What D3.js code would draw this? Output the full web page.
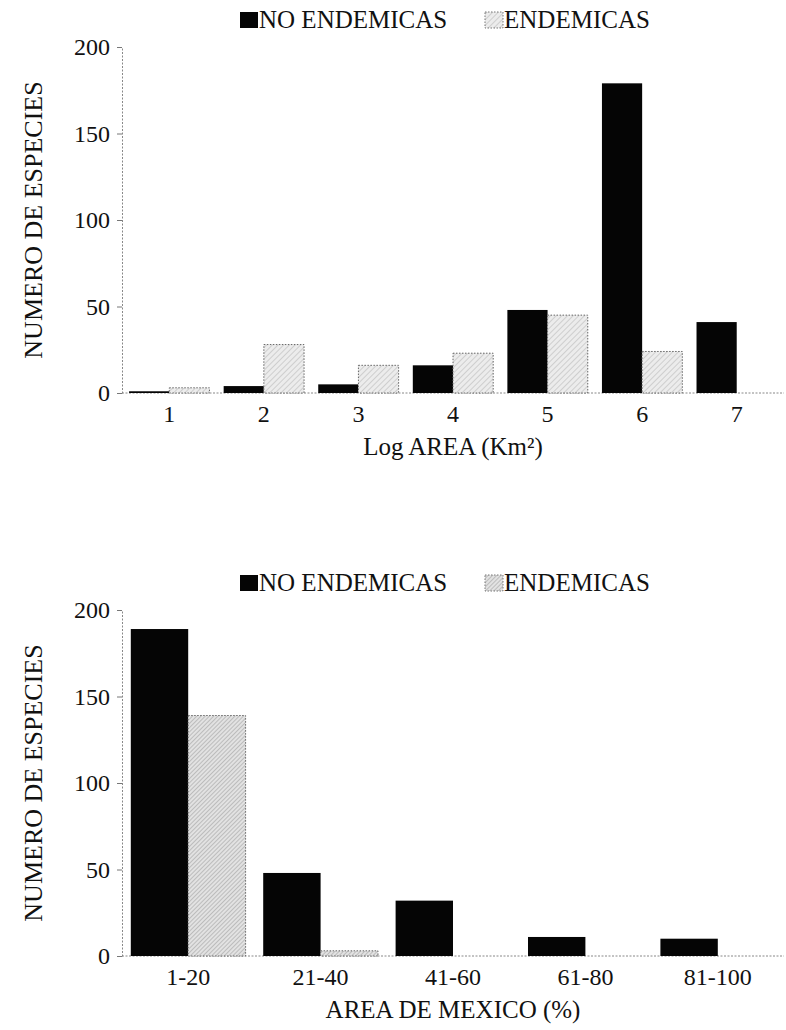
<!DOCTYPE html>
<html>
<head>
  <meta charset="UTF-8"/>
  <title>Numero de especies</title>
  <style>
    body { margin: 0; background: #fff; }
    svg text { font-family: 'Liberation Serif', 'Times New Roman', serif; fill: #111; }
    .tick text { font-size: 24px; }
    .titles { font-size: 25px; }
    .ytitle { font-size: 26px; }
    .legend { font-size: 25px; }
    .axis .domain { stroke: #888; stroke-dasharray: 2,1.5; }
    .axis .tick line { stroke: #777; }
  </style>
  <script src="https://d3js.org/d3.v7.min.js"></script>
</head>
<body>
<svg width="786" height="1030"></svg>
<script>
var logArea = ["1", "2", "3", "4", "5", "6", "7"];
var noEndLog = [1, 4, 5, 16, 48, 179, 41];
var endLog = [3, 28, 16, 23, 45, 24, 0];

var mexArea = ["1-20", "21-40", "41-60", "61-80", "81-100"];
var noEndMex = [189, 48, 32, 11, 10];
var endMex = [139, 3, 0, 0, 0];

var yTicks = [0, 50, 100, 150, 200];
var legendNames = ["NO ENDEMICAS", "ENDEMICAS"];

var svg = d3.select("svg");
var defs = svg.append("defs");

// fill patterns for the endemic bars (scanned grey hatching)
function makePattern(id, bg, line, gap) {
  var p = defs.append("pattern")
    .attr("id", id)
    .attr("patternUnits", "userSpaceOnUse")
    .attr("width", gap).attr("height", gap)
    .attr("patternTransform", "rotate(45)");
  p.append("rect").attr("width", gap).attr("height", gap).attr("fill", bg);
  p.append("line").attr("x1", 0).attr("y1", 0).attr("x2", 0).attr("y2", gap)
    .attr("stroke", line).attr("stroke-width", 0.9);
}
makePattern("hatchTop", "#ececec", "#a8a8a8", 4);
makePattern("hatchBot", "#e2e2e2", "#8e8e8e", 3);

function drawChart(o) {
  var x = d3.scaleBand().domain(o.cats).range([122, 784])
    .paddingInner(o.pad).paddingOuter(o.pad / 2);
  var x1 = d3.scaleBand().domain([0, 1]).range([0, x.bandwidth()]);
  var y = d3.scaleLinear().domain([0, 200]).range([o.y0, o.y200]);

  var g = svg.append("g");

  // baseline, extends a little past the last group
  g.append("line")
    .attr("x1", 122).attr("x2", 784)
    .attr("y1", y(0)).attr("y2", y(0))
    .attr("stroke", "#888").attr("stroke-dasharray", "2,1.5");

  g.append("g")
    .attr("class", "axis")
    .attr("transform", "translate(0," + y(0) + ")")
    .call(d3.axisBottom(x).tickSize(0).tickPadding(12))
    .call(function(s) { s.select(".domain").remove(); });

  g.append("g")
    .attr("class", "axis")
    .attr("transform", "translate(122,0)")
    .call(d3.axisLeft(y).tickValues(yTicks).tickSize(5).tickSizeOuter(0).tickPadding(7));

  var series = [o.noEnd, o.end];
  series.forEach(function(vals, s) {
    g.selectAll(".bar" + s)
      .data(vals)
      .enter().append("rect")
        .attr("class", "bar" + s)
        .attr("x", function(d, i) { return x(o.cats[i]) + x1(s); })
        .attr("y", function(d) { return y(d); })
        .attr("width", x1.bandwidth())
        .attr("height", function(d) { return y(0) - y(d); })
        .attr("fill", s == 0 ? "#050505" : "url(#" + o.pattern + ")")
        .attr("stroke", s == 0 ? "none" : "#666")
        .attr("stroke-width", 1)
        .attr("stroke-dasharray", "1.5,1.5");
  });

  // legend
  var lg = g.append("g").attr("transform", "translate(0," + (o.y200 - 35) + ")");
  lg.append("rect").attr("x", 240).attr("y", 0).attr("width", 18).attr("height", 16).attr("fill", "#050505");
  lg.append("text").attr("class", "legend").attr("x", 259).attr("y", 16).text(legendNames[0]);
  lg.append("rect").attr("x", 485).attr("y", 0).attr("width", 18).attr("height", 16)
    .attr("fill", "url(#" + o.pattern + ")").attr("stroke", "#777").attr("stroke-dasharray", "1.5,1.5");
  lg.append("text").attr("class", "legend").attr("x", 504).attr("y", 16).text(legendNames[1]);

  g.append("text")
    .attr("class", "titles")
    .attr("x", 453).attr("y", y(0) + 62)
    .attr("text-anchor", "middle")
    .text(o.xTitle);

  g.append("text")
    .attr("class", "ytitle")
    .attr("transform", "translate(42," + ((o.y0 + o.y200) / 2) + ") rotate(-90)")
    .attr("text-anchor", "middle")
    .text("NUMERO DE ESPECIES");
}

drawChart({cats: logArea, noEnd: noEndLog, end: endLog, pad: 0.15,
  y0: 393, y200: 47, pattern: "hatchTop", xTitle: "Log AREA (Km\u00b2)"});
drawChart({cats: mexArea, noEnd: noEndMex, end: endMex, pad: 0.133,
  y0: 956, y200: 610, pattern: "hatchBot", xTitle: "AREA DE MEXICO (%)"});
</script>
</body>
</html>
